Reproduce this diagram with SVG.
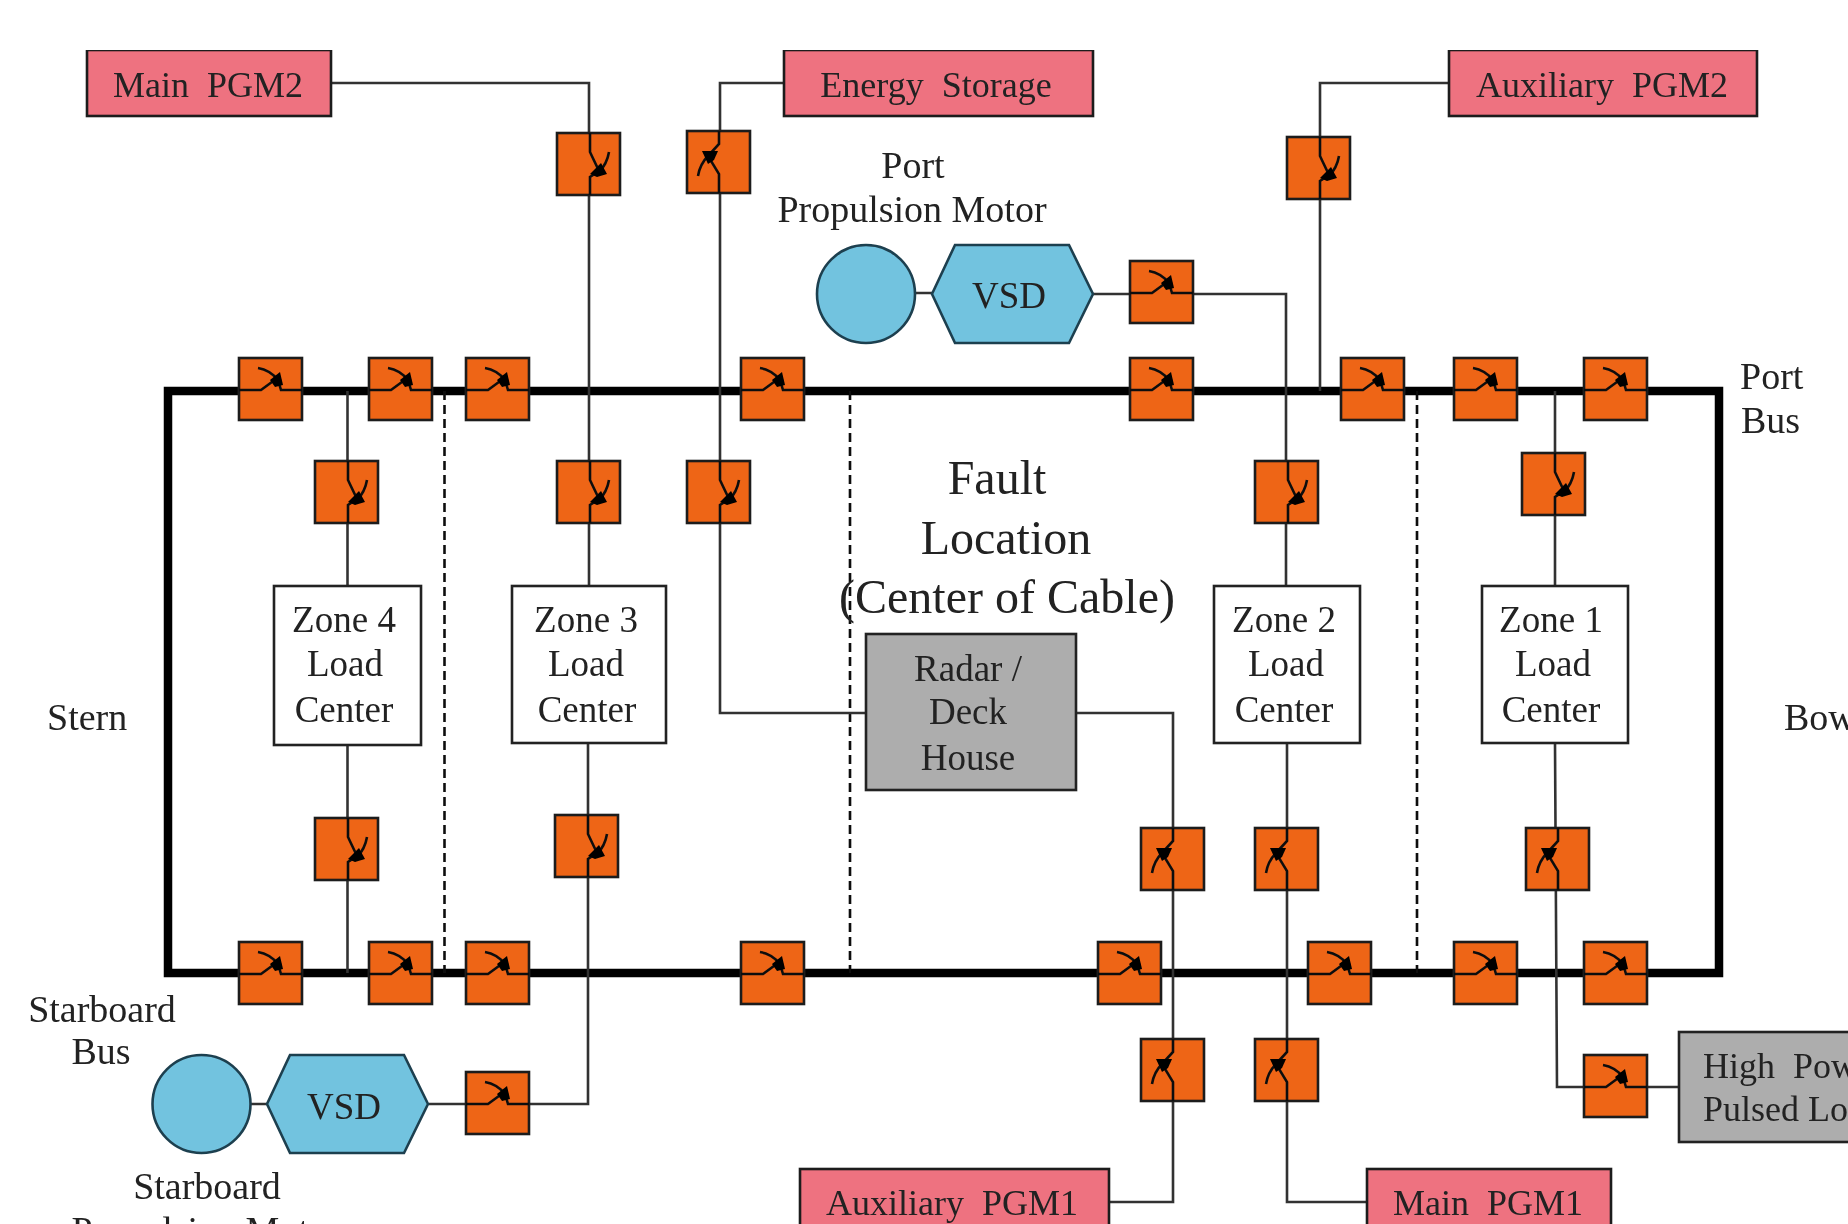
<svg xmlns="http://www.w3.org/2000/svg" width="1848" height="1224" viewBox="0 0 1848 1224">
<style>
text{font-family:"Liberation Serif","Times New Roman",serif;font-size:37px;fill:#222;white-space:pre}
.m{text-anchor:middle}
.f{font-size:48px}
.l{font-size:38px}
.p{font-size:36px}
.w{fill:none;stroke:#333;stroke-width:2.6}
.bus{fill:none;stroke:#000;stroke-width:8.5}
.dash{fill:none;stroke:#111;stroke-width:2.6;stroke-dasharray:9 5}
.pink{fill:#EE7280;stroke:#1a1a1a;stroke-width:2.6}
.grey{fill:#ADADAD;stroke:#222;stroke-width:2.6}
.white{fill:#fff;stroke:#222;stroke-width:2.6}
.blue{fill:#72C3DF;stroke:#1f3f4f;stroke-width:2.6}
.cb{fill:#EE6516;stroke:#1a1a1a;stroke-width:2.6}
.sw{fill:none;stroke:#111;stroke-width:2.6}
.dot{fill:#000}
</style>
<defs>
<filter id="soft" x="0" y="0" width="100%" height="100%"><feGaussianBlur stdDeviation="0.7"/></filter>
<g id="h"><rect class="cb" width="63" height="62"/><path class="sw" d="M0,32H22L37,21M19,10Q31,12 39,22L42,32H63"/><path class="dot" d="M31,22L41,14L44,27L36,29Z"/></g>
<g id="a"><rect class="cb" width="63" height="62"/><path class="sw" d="M33,0V19L42,38L33,44V62M52,19Q50,31 42,39"/><path class="dot" d="M33,41L44,30L50,41L40,44Z"/></g>
<g id="b"><rect class="cb" width="63" height="62"/><path class="sw" d="M32,0V13L21,25L32,43V62M21,25Q13,33 11,45"/><path class="dot" d="M15,20H31L27,29L21,33Z"/></g>
</defs>
<rect width="1848" height="1224" fill="#fff"/>
<g filter="url(#soft)">
<g id="connectors">
<path class="bus" d="M168,391H1719V973H168Z"/>
<path class="dash" d="M444.500,391V973"/>
<path class="dash" d="M850,391V973"/>
<path class="dash" d="M1417,391V973"/>
<path class="w" d="M331,83H589V586"/>
<path class="w" d="M784,83H720V713H866"/>
<path class="w" d="M1449,83H1320V391"/>
<path class="w" d="M915,293H932M1093,294H1286V586"/>
<path class="w" d="M347.500,391V586M347.500,745V973"/>
<path class="w" d="M588,743V1104H429M251,1104H267"/>
<path class="w" d="M1077,713H1173V1202H1109"/>
<path class="w" d="M1287,743V1202H1367"/>
<path class="w" d="M1555,391V586M1555,743L1557,1087H1679"/>
</g>
<g id="main-pgm2"><rect class="pink" x="87" y="50" width="244" height="66"/><text class="m p" x="208" y="97">Main  PGM2</text></g>
<g id="energy-storage"><rect class="pink" x="784" y="50" width="309" height="66"/><text class="m p" x="936" y="97">Energy  Storage</text></g>
<g id="auxiliary-pgm2"><rect class="pink" x="1449" y="50" width="308" height="66"/><text class="m p" x="1602" y="97">Auxiliary  PGM2</text></g>
<g id="auxiliary-pgm1"><rect class="pink" x="800" y="1169" width="309" height="70"/><text class="m p" x="952" y="1215">Auxiliary  PGM1</text></g>
<g id="main-pgm1"><rect class="pink" x="1367" y="1169" width="244" height="70"/><text class="m p" x="1488" y="1215">Main  PGM1</text></g>
<g id="port-motor"><circle class="blue" cx="866" cy="294" r="49"/><text class="m l" x="913" y="178">Port</text><text class="m l" x="912" y="222">Propulsion Motor</text></g>
<g id="port-vsd"><path class="blue" d="M932,294L955,245H1069L1093,294L1069,343H955Z"/><text class="m" x="1009" y="308">VSD</text></g>
<g id="starboard-motor"><circle class="blue" cx="201.500" cy="1104" r="49"/><text class="m l" x="207" y="1199">Starboard</text><text class="m l" x="206" y="1243">Propulsion Motor</text></g>
<g id="starboard-vsd"><path class="blue" d="M267,1104L290,1055H404L428,1104L404,1153H290Z"/><text class="m" x="344" y="1119">VSD</text></g>
<g id="zone4"><rect class="white" x="274" y="586" width="147" height="159"/><text class="m" x="344" y="632">Zone 4</text><text class="m" x="345" y="676">Load</text><text class="m" x="344" y="722">Center</text></g>
<g id="zone3"><rect class="white" x="512" y="586" width="154" height="157"/><text class="m" x="586" y="632">Zone 3</text><text class="m" x="586" y="676">Load</text><text class="m" x="587" y="722">Center</text></g>
<g id="zone2"><rect class="white" x="1214" y="586" width="146" height="157"/><text class="m" x="1284" y="632">Zone 2</text><text class="m" x="1286" y="676">Load</text><text class="m" x="1284" y="722">Center</text></g>
<g id="zone1"><rect class="white" x="1482" y="586" width="146" height="157"/><text class="m" x="1551" y="632">Zone 1</text><text class="m" x="1553" y="676">Load</text><text class="m" x="1551" y="722">Center</text></g>
<g id="radar"><rect class="grey" x="866" y="634" width="210" height="156"/><text class="m" x="968" y="681">Radar /</text><text class="m" x="968" y="724">Deck</text><text class="m" x="968" y="770">House</text></g>
<g id="pulsed-load"><rect class="grey" x="1679" y="1032" width="200" height="110"/><text class="p" x="1703" y="1078">High  Power</text><text class="p" x="1703" y="1121">Pulsed Load</text></g>
<g id="breakers">
<g id="cb-p1"><use href="#h" x="239" y="358"/></g>
<g id="cb-p2"><use href="#h" x="369" y="358"/></g>
<g id="cb-p3"><use href="#h" x="466" y="358"/></g>
<g id="cb-p4"><use href="#h" x="741" y="358"/></g>
<g id="cb-p5"><use href="#h" x="1130" y="358"/></g>
<g id="cb-p6"><use href="#h" x="1341" y="358"/></g>
<g id="cb-p7"><use href="#h" x="1454" y="358"/></g>
<g id="cb-p8"><use href="#h" x="1584" y="358"/></g>
<g id="cb-s1"><use href="#h" x="239" y="942"/></g>
<g id="cb-s2"><use href="#h" x="369" y="942"/></g>
<g id="cb-s3"><use href="#h" x="466" y="942"/></g>
<g id="cb-s4"><use href="#h" x="741" y="942"/></g>
<g id="cb-s5"><use href="#h" x="1098" y="942"/></g>
<g id="cb-s6"><use href="#h" x="1308" y="942"/></g>
<g id="cb-s7"><use href="#h" x="1454" y="942"/></g>
<g id="cb-s8"><use href="#h" x="1584" y="942"/></g>
<g id="cb-vsd-p"><use href="#h" x="1130" y="261"/></g>
<g id="cb-vsd-s"><use href="#h" x="466" y="1072"/></g>
<g id="cb-load"><use href="#h" x="1584" y="1055"/></g>
<g id="cb-a1"><use href="#a" x="557" y="133"/></g>
<g id="cb-a2"><use href="#a" x="1287" y="137"/></g>
<g id="cb-a3"><use href="#a" x="315" y="461"/></g>
<g id="cb-a4"><use href="#a" x="557" y="461"/></g>
<g id="cb-a5"><use href="#a" x="687" y="461"/></g>
<g id="cb-a6"><use href="#a" x="1255" y="461"/></g>
<g id="cb-a7"><use href="#a" x="1522" y="453"/></g>
<g id="cb-a8"><use href="#a" x="315" y="818"/></g>
<g id="cb-a9"><use href="#a" x="555" y="815"/></g>
<g id="cb-b1"><use href="#b" x="687" y="131"/></g>
<g id="cb-b2"><use href="#b" x="1141" y="828"/></g>
<g id="cb-b3"><use href="#b" x="1255" y="828"/></g>
<g id="cb-b4"><use href="#b" x="1526" y="828"/></g>
<g id="cb-b5"><use href="#b" x="1141" y="1039"/></g>
<g id="cb-b6"><use href="#b" x="1255" y="1039"/></g>
</g>
<g id="labels">
<text class="f m" x="997" y="494">Fault</text>
<text class="f m" x="1006" y="554">Location</text>
<text class="f m" x="1007" y="613">(Center of Cable)</text>
<text class="l" x="47" y="730">Stern</text>
<text class="l" x="1784" y="730">Bow</text>
<text class="l" x="1740" y="389">Port</text>
<text class="l" x="1741" y="433">Bus</text>
<text class="m l" x="102" y="1022">Starboard</text>
<text class="m l" x="101" y="1064">Bus</text>
</g>
</g>
</svg>
